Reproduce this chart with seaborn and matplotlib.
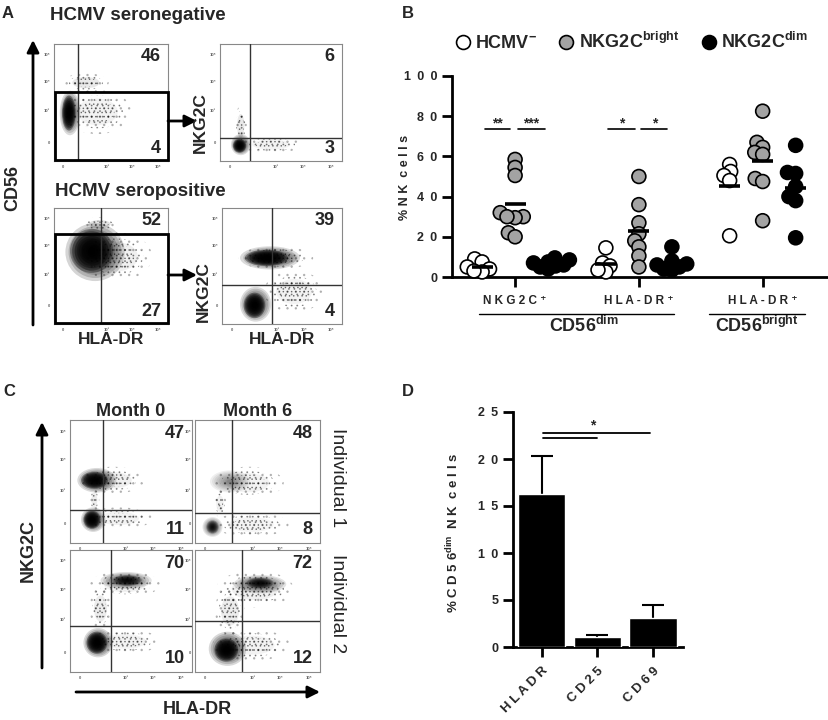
import numpy as np
import pandas as pd
import matplotlib
matplotlib.use("Agg")
import matplotlib.pyplot as plt
import seaborn as sns
from matplotlib.patches import Ellipse, Rectangle
from matplotlib.lines import Line2D

sns.set_style("white")
plt.rcParams['font.family'] = ['Liberation Sans', 'DejaVu Sans']
plt.rcParams.update({
    'mathtext.fontset': 'custom',
    'mathtext.rm': 'Liberation Sans',
    'mathtext.bf': 'Liberation Sans:bold',
    'mathtext.it': 'Liberation Sans:italic',
    'mathtext.sf': 'Liberation Sans',
    'font.weight': 'bold',
    'hatch.linewidth': 0.6,
})

# ---------------- DATA ----------------
# Panel B
b_groups = ["NKG2C+ dim", "HLA-DR+ dim", "HLA-DR+ bright"]
b_series = ["HCMV-", "NKG2Cbright", "NKG2Cdim"]
g1_hcmvneg = [9, 7.5, 5, 4, 2.5, 3]
g1_bright = [58.5, 54.5, 50.5, 32, 30, 29.5, 30, 22, 20]
g1_dim = [9.5, 8.5, 7.5, 7, 6, 5.5, 5, 4]
g2_hcmvneg = [14.5, 7, 5.5, 2.5, 3.5]
g2_bright = [50, 36, 27, 21.5, 18, 15, 10.5, 5]
g2_dim = [15, 8, 6.5, 6, 5, 4, 3.5]
g3_hcmvneg = [56, 52.5, 50.5, 48, 20.5]
g3_bright = [82.5, 67, 64.5, 62, 61, 49, 47.5, 28]
g3_dim = [65.5, 52, 51.5, 45, 40, 38, 19.5]
b_ticklabels = ["NKG2C\u207a", "HLA-DR\u207a", "HLA-DR\u207a"]
b_yticks = [0, 20, 40, 60, 80, 100]
b_sig_y = 73.6
b_sig_spans = [(-0.24, -0.04, "**"), (0.02, 0.24, "***"), (0.75, 0.97, "*"), (1.02, 1.23, "*")]

# Panel D
d_markers = ["HLADR", "CD25", "CD69"]
d_means = [16.3, 1.05, 3.1]
d_err = [4.0, 0.2, 1.35]
d_yticks = [0, 5, 10, 15, 20, 25]

# Flow panels: gate positions, quadrant numbers, density blobs (panel % coords)
flow = {
    "A1": dict(vx=21, hy=59, top=46, bot=4, gate=True,
               bx=[38, 28, 14, 13], by=[42, 67, 41, 41], bw=[60, 40, 18, 12],
               bh=[38, 16, 38, 30], bd=[0.12, 0.22, 0.75, 0.98]),
    "A2": dict(vx=25, hy=20, top=6, bot=3, gate=False,
               bx=[42, 17, 17, 16], by=[14, 30, 14, 13], bw=[52, 10, 16, 11],
               bh=[14, 34, 18, 12], bd=[0.12, 0.22, 0.75, 0.98]),
    "A3": dict(vx=41, hy=78, top=52, bot=27, gate=True,
               bx=[55, 40, 36, 33], by=[58, 86, 62, 63], bw=[62, 32, 52, 38],
               bh=[42, 12, 50, 38], bd=[0.15, 0.28, 0.8, 0.97]),
    "A4": dict(vx=42, hy=34, top=39, bot=4, gate=False,
               bx=[60, 45, 40, 37, 28, 27], by=[28, 57, 57, 57, 17, 16],
               bw=[50, 62, 50, 36, 26, 18], bh=[36, 20, 20, 14, 30, 22],
               bd=[0.12, 0.22, 0.75, 0.98, 0.75, 0.98]),
    "C1": dict(vx=27, hy=27, top=47, bot=11, gate=False,
               bx=[35, 22, 20, 40, 19, 18, 20], by=[51, 51, 51, 20, 19, 19, 35],
               bw=[52, 32, 22, 55, 20, 14, 8], bh=[22, 20, 14, 18, 20, 15, 20],
               bd=[0.15, 0.75, 0.97, 0.12, 0.75, 0.98, 0.18]),
    "C2": dict(vx=30, hy=24, top=48, bot=8, gate=False,
               bx=[42, 28, 45, 14, 14, 20], by=[49, 50, 15, 13, 13, 32],
               bw=[58, 32, 60, 16, 10, 10], bh=[26, 18, 20, 16, 11, 22],
               bd=[0.12, 0.45, 0.1, 0.6, 0.85, 0.15]),
    "C3": dict(vx=34, hy=38, top=70, bot=10, gate=False,
               bx=[45, 46, 47, 25, 45, 23, 22], by=[72, 75, 75, 52, 25, 24, 24],
               bw=[58, 42, 24, 18, 58, 24, 17], bh=[22, 14, 9, 36, 20, 24, 18],
               bd=[0.15, 0.65, 0.88, 0.18, 0.12, 0.78, 0.98]),
    "C4": dict(vx=38, hy=42, top=72, bot=12, gate=False,
               bx=[48, 52, 52, 28, 45, 26, 25], by=[68, 72, 73, 50, 22, 19, 18],
               bw=[62, 42, 22, 24, 62, 30, 19], bh=[30, 15, 9, 40, 26, 28, 19],
               bd=[0.15, 0.65, 0.88, 0.18, 0.12, 0.78, 0.98]),
}
flow_xticks = [8, 46, 68, 91]
flow_yticks = [16, 43, 68, 91]
flow_ticklabels = ["0", "10\u00b3", "10\u2074", "10\u2075"]

# ---------------- LAYOUT ----------------
W, H = 829, 720
fig = plt.figure(figsize=(W / 100, H / 100), dpi=100)


def rect(x0, y0, x1, y1):
    return [x0 / W, 1 - y1 / H, (x1 - x0) / W, (y1 - y0) / H]


def sp(s, sep=" "):
    return sep.join(list(s))


flow_rects = {
    "A1": (54, 44, 168, 161), "A2": (220, 44, 342, 161),
    "A3": (54, 208, 168, 324), "A4": (222, 208, 342, 324),
    "C1": (70, 420, 192, 543), "C2": (195, 420, 320, 543),
    "C3": (70, 550, 192, 672), "C4": (195, 550, 320, 672),
}


def draw_flow(ax, p):
    ax.set_xlim(0, 100)
    ax.set_ylim(0, 100)
    scales = np.linspace(1.0, 0.15, 9)
    for x, y, w, h, d in zip(p["bx"], p["by"], p["bw"], p["bh"], p["bd"]):
        if d < 0.3:
            # sparse events: speckled texture fading outwards
            for s, al, ht in [(1.0, 0.22, ".."), (0.75, 0.35, "..."),
                              (0.5, 0.45, "....")]:
                ax.add_patch(Ellipse((x, y), w * s, h * s, facecolor="none",
                                     edgecolor=(0, 0, 0, al), lw=0,
                                     hatch=ht, zorder=1))
            ax.add_patch(Ellipse((x, y), w * 0.6, h * 0.6, facecolor="black",
                                 edgecolor="none", alpha=d * 0.4, zorder=1))
            continue
        a = 1 - (1 - d) ** (1 / len(scales))
        for s in scales:
            ax.add_patch(Ellipse((x, y), w * s, h * s, facecolor="black",
                                 edgecolor="none", alpha=a, zorder=1))
    ax.axvline(p["vx"], color="#333333", lw=1.0, zorder=3)
    if p["gate"]:
        ax.add_patch(Rectangle((0.6, 0.8), 99.0, p["hy"] - 0.8, fill=False,
                               edgecolor="black", lw=2.0, zorder=4, clip_on=False))
    else:
        ax.axhline(p["hy"], color="#333333", lw=1.0, zorder=3)
    ax.text(94, 89, str(p["top"]), ha="right", va="center", fontsize=13,
            fontweight="bold", zorder=5)
    ax.text(94, 11, str(p["bot"]), ha="right", va="center", fontsize=13,
            fontweight="bold", zorder=5)
    ax.set_xticks(flow_xticks)
    ax.set_yticks(flow_yticks)
    ax.set_xticklabels(flow_ticklabels, fontsize=3, color="#666666")
    ax.set_yticklabels(flow_ticklabels, fontsize=3, color="#666666")
    ax.tick_params(length=2, width=0.6, pad=0.8, colors="#666666")
    for s in ax.spines.values():
        s.set_color("#888888")
        s.set_linewidth(0.8)


for key, r in flow_rects.items():
    ax = fig.add_axes(rect(*r))
    draw_flow(ax, flow[key])

# ---------------- PANEL B ----------------
rows = []
for g, vals in zip(b_groups, [(g1_hcmvneg, g1_bright, g1_dim),
                              (g2_hcmvneg, g2_bright, g2_dim),
                              (g3_hcmvneg, g3_bright, g3_dim)]):
    for s, v in zip(b_series, vals):
        for val in v:
            rows.append((g, s, val))
dfB = pd.DataFrame(rows, columns=["group", "series", "value"])
palB = {"HCMV-": "white", "NKG2Cbright": "#a3a3a3", "NKG2Cdim": "black"}

axB = fig.add_axes(rect(452, 76, 827, 277))
# swarm layout computed with compact markers, then drawn with the
# reference's larger (overlapping) markers
sns.swarmplot(data=dfB, x="group", y="value", hue="series", order=b_groups,
              hue_order=b_series, dodge=True, palette=palB, size=4.5,
              edgecolor="black", linewidth=1.2, legend=False, ax=axB,
              clip_on=False, zorder=3, warn_thresh=1.0)
fig.canvas.draw()
for c in axB.collections:
    c.__dict__.pop("draw", None)
    c.set_sizes([10 ** 2])
offs = [-0.8 / 3, 0, 0.8 / 3]
means = dfB.groupby(["group", "series"])["value"].mean()
for gi, g in enumerate(b_groups):
    for si, s in enumerate(b_series):
        m = means.loc[(g, s)]
        axB.hlines(m, gi + offs[si] - 0.085, gi + offs[si] + 0.085,
                   color="black", lw=2.6, zorder=6)
axB.set_ylim(0, 100)
axB.set_xlim(-0.51, 2.52)
axB.set_yticks(b_yticks)
axB.set_yticklabels([sp(str(t), "\u2002") for t in b_yticks], fontsize=9,
                    fontweight="bold")
axB.set_xticks([0, 1, 2])
axB.set_xticklabels([sp(t) for t in b_ticklabels], fontsize=8.5, fontweight="bold")
axB.set_xlabel("")
axB.set_ylabel("")
for side in ["top", "right"]:
    axB.spines[side].set_visible(False)
for side in ["left", "bottom"]:
    axB.spines[side].set_linewidth(2)
    axB.spines[side].set_color("black")
axB.tick_params(axis="both", direction="out", length=7, width=2, color="black",
                bottom=True, left=True)
axB.tick_params(axis="x", pad=6)
for x0, x1, lab in b_sig_spans:
    axB.plot([x0, x1], [b_sig_y, b_sig_y], color="black", lw=1.2, zorder=4)
    axB.text((x0 + x1) / 2, b_sig_y - 0.5, lab, ha="center", va="bottom",
             fontsize=10, fontweight="bold")
tB = axB.get_xaxis_transform()
axB.plot([-0.29, 1.28], [-0.184, -0.184], transform=tB, clip_on=False,
         color="black", lw=1)
axB.plot([1.57, 2.34], [-0.184, -0.184], transform=tB, clip_on=False,
         color="black", lw=1)
axB.text(0.56, -0.193, r"$\mathbf{CD56^{dim}}$", transform=tB, ha="center",
         va="top", fontsize=13)
axB.text(1.95, -0.193, r"$\mathbf{CD56^{bright}}$", transform=tB, ha="center",
         va="top", fontsize=13)
handles = [Line2D([], [], marker="o", ls="none", markersize=10,
                  markerfacecolor=palB[s], markeredgecolor="black",
                  markeredgewidth=1.2) for s in b_series]
labels = [r"$\mathbf{HCMV^{-}}$", r"$\mathbf{NKG2C^{bright}}$",
          r"$\mathbf{NKG2C^{dim}}$"]
axB.legend(handles, labels, loc="center", bbox_to_anchor=(0.477, 1.17), ncol=3,
           frameon=False, fontsize=13, handletextpad=0.2, columnspacing=1.1,
           handlelength=1.0, borderaxespad=0)

# ---------------- PANEL D ----------------
axD = fig.add_axes(rect(513, 412, 683, 647))
sns.barplot(x=d_markers, y=d_means, color="black", saturation=1, width=0.85,
            ax=axD, zorder=3)
eb = axD.errorbar(range(len(d_markers)), d_means,
                  yerr=[np.zeros(len(d_err)), d_err], fmt="none", ecolor="black",
                  elinewidth=1.5, capsize=8, capthick=1.5, zorder=2)
if len(eb.lines[1]) == 2:
    eb.lines[1][0].set_visible(False)
axD.set_ylim(0, 25)
axD.set_xlim(-0.52, 2.54)
axD.set_yticks(d_yticks)
axD.set_yticklabels([sp(str(t), "\u2002") for t in d_yticks], fontsize=9,
                    fontweight="bold")
axD.set_xticks([0, 1, 2])
axD.set_xticklabels([sp(t) for t in d_markers], rotation=45, ha="right",
                    rotation_mode="anchor", fontsize=9.5, fontweight="bold")
for side in ["top", "right"]:
    axD.spines[side].set_visible(False)
for side in ["left", "bottom"]:
    axD.spines[side].set_linewidth(2)
    axD.spines[side].set_color("black")
axD.tick_params(axis="both", direction="out", length=7, width=2, color="black",
                bottom=True, left=True)
axD.tick_params(axis="x", pad=6)
axD.plot([0.02, 1.95], [22.75, 22.75], color="black", lw=1.3)
axD.plot([0.02, 0.99], [22.2, 22.2], color="black", lw=1.3)
axD.text(0.92, 22.8, "*", ha="center", va="bottom", fontsize=10, fontweight="bold")

# ---------------- OVERLAY TEXT & ARROWS ----------------
axf = fig.add_axes([0, 0, 1, 1], zorder=10)
axf.set_xlim(0, W)
axf.set_ylim(H, 0)
axf.axis("off")
axf.patch.set_alpha(0)

def arrow(x0, y0, x1, y1, lw=2, ms=18):
    axf.annotate("", xy=(x1, y1), xytext=(x0, y0),
                 arrowprops=dict(arrowstyle="-|>", lw=lw, color="black",
                                 mutation_scale=ms, shrinkA=0, shrinkB=0))

for lab, x, y in [("A", 2, 14), ("B", 402, 14), ("C", 3, 392), ("D", 402, 392)]:
    axf.text(x, y, lab, ha="left", va="center", fontsize=12, fontweight="bold")

axf.text(50, 16, "HCMV seronegative", ha="left", va="center", fontsize=13.5,
         fontweight="bold")
axf.text(55, 192, "HCMV seropositive", ha="left", va="center", fontsize=13.5,
         fontweight="bold")
axf.text(13, 188, "CD56", ha="center", va="center", rotation=90, fontsize=13,
         fontweight="bold")
arrow(33, 325, 33, 40)
arrow(168, 121, 197, 121)
arrow(168, 275, 197, 275)
axf.text(200, 123, "NKG2C", ha="center", va="center", rotation=90, fontsize=12.5,
         fontweight="bold")
axf.text(203, 292, "NKG2C", ha="center", va="center", rotation=90, fontsize=12.5,
         fontweight="bold")
axf.text(111, 340, "HLA-DR", ha="center", va="center", fontsize=12.5,
         fontweight="bold")
axf.text(282, 340, "HLA-DR", ha="center", va="center", fontsize=12.5,
         fontweight="bold")

axf.text(131, 412, "Month 0", ha="center", va="center", fontsize=13,
         fontweight="bold")
axf.text(258, 412, "Month 6", ha="center", va="center", fontsize=13,
         fontweight="bold")
arrow(42, 668, 42, 422)
arrow(76, 692, 320, 692)
axf.text(28, 550, "NKG2C", ha="center", va="center", rotation=90, fontsize=13,
         fontweight="bold")
axf.text(197, 709, "HLA-DR", ha="center", va="center", fontsize=13,
         fontweight="bold")
axf.text(338, 478, "Individual 1", ha="center", va="center", rotation=-90,
         fontsize=14, fontweight="normal")
axf.text(338, 604, "Individual 2", ha="center", va="center", rotation=-90,
         fontsize=14, fontweight="normal")

axf.text(405, 177, "% " + sp("NK") + "  " + sp("cells"), ha="center",
         va="center", rotation=90, fontsize=9, fontweight="bold")
axf.text(453, 533, "% " + sp("CD56") + r"$^{\mathbf{dim}}$" + "  " + sp("NK")
         + "  " + sp("cells"), ha="center", va="center", rotation=90,
         fontsize=9.5, fontweight="bold")

fig.savefig("out.png", dpi=100)
